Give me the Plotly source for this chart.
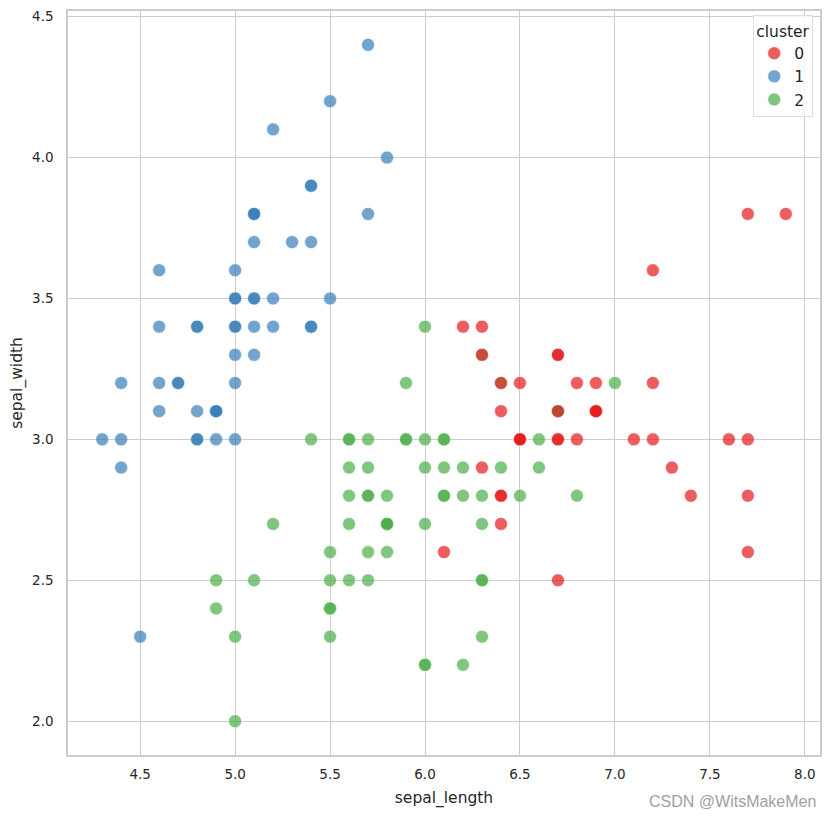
import plotly.graph_objects as go

# iris sepal measurements, in dataset order, with k-means cluster labels
sepal_length = [
    5.1, 4.9, 4.7, 4.6, 5.0, 5.4, 4.6, 5.0, 4.4, 4.9, 5.4, 4.8, 4.8, 4.3, 5.8, 5.7, 5.4, 5.1, 5.7, 5.1,
    5.4, 5.1, 4.6, 5.1, 4.8, 5.0, 5.0, 5.2, 5.2, 4.7, 4.8, 5.4, 5.2, 5.5, 4.9, 5.0, 5.5, 4.9, 4.4, 5.1,
    5.0, 4.5, 4.4, 5.0, 5.1, 4.8, 5.1, 4.6, 5.3, 5.0,
    7.0, 6.4, 6.9, 5.5, 6.5, 5.7, 6.3, 4.9, 6.6, 5.2, 5.0, 5.9, 6.0, 6.1, 5.6, 6.7, 5.6, 5.8, 6.2, 5.6,
    5.9, 6.1, 6.3, 6.1, 6.4, 6.6, 6.8, 6.7, 6.0, 5.7, 5.5, 5.5, 5.8, 6.0, 5.4, 6.0, 6.7, 6.3, 5.6, 5.5,
    5.5, 6.1, 5.8, 5.0, 5.6, 5.7, 5.7, 6.2, 5.1, 5.7,
    6.3, 5.8, 7.1, 6.3, 6.5, 7.6, 4.9, 7.3, 6.7, 7.2, 6.5, 6.4, 6.8, 5.7, 5.8, 6.4, 6.5, 7.7, 7.7, 6.0,
    6.9, 5.6, 7.7, 6.3, 6.7, 7.2, 6.2, 6.1, 6.4, 7.2, 7.4, 7.9, 6.4, 6.3, 6.1, 7.7, 6.3, 6.4, 6.0, 6.9,
    6.7, 6.9, 5.8, 6.8, 6.7, 6.7, 6.3, 6.5, 6.2, 5.9,
]
sepal_width = [
    3.5, 3.0, 3.2, 3.1, 3.6, 3.9, 3.4, 3.4, 2.9, 3.1, 3.7, 3.4, 3.0, 3.0, 4.0, 4.4, 3.9, 3.5, 3.8, 3.8,
    3.4, 3.7, 3.6, 3.3, 3.4, 3.0, 3.4, 3.5, 3.4, 3.2, 3.1, 3.4, 4.1, 4.2, 3.1, 3.2, 3.5, 3.1, 3.0, 3.4,
    3.5, 2.3, 3.2, 3.5, 3.8, 3.0, 3.8, 3.2, 3.7, 3.3,
    3.2, 3.2, 3.1, 2.3, 2.8, 2.8, 3.3, 2.4, 2.9, 2.7, 2.0, 3.0, 2.2, 2.9, 2.9, 3.1, 3.0, 2.7, 2.2, 2.5,
    3.2, 2.8, 2.5, 2.8, 2.9, 3.0, 2.8, 3.0, 2.9, 2.6, 2.4, 2.4, 2.7, 2.7, 3.0, 3.4, 3.1, 2.3, 3.0, 2.5,
    2.6, 3.0, 2.6, 2.3, 2.7, 3.0, 2.9, 2.9, 2.5, 2.8,
    3.3, 2.7, 3.0, 2.9, 3.0, 3.0, 2.5, 2.9, 2.5, 3.6, 3.2, 2.7, 3.0, 2.5, 2.8, 3.2, 3.0, 3.8, 2.6, 2.2,
    3.2, 2.8, 2.8, 2.7, 3.3, 3.2, 2.8, 3.0, 2.8, 3.0, 2.8, 3.8, 2.8, 2.8, 2.6, 3.0, 3.4, 3.1, 3.0, 3.1,
    3.1, 3.1, 2.7, 3.2, 3.3, 3.0, 2.5, 3.0, 3.4, 3.0,
]
cluster = (
    [1] * 50
    + [2, 2, 0, 2, 2, 2, 2, 2, 2, 2, 2, 2, 2, 2, 2, 2, 2, 2, 2, 2,
       2, 2, 2, 2, 2, 2, 2, 0, 2, 2, 2, 2, 2, 2, 2, 2, 2, 2, 2, 2,
       2, 2, 2, 2, 2, 2, 2, 2, 2, 2]
    + [0, 2, 0, 0, 0, 0, 2, 0, 0, 0, 0, 0, 0, 2, 2, 0, 0, 0, 0, 2,
       0, 2, 0, 2, 0, 0, 2, 2, 0, 0, 0, 0, 0, 2, 0, 0, 0, 0, 2, 0,
       0, 0, 2, 0, 0, 0, 2, 0, 0, 2]
)

cluster_names = ["0", "1", "2"]
palette = {"0": "#e41a1c", "1": "#377eb8", "2": "#4daf4a"}

fig = go.Figure()

# green first, red last so red sits on top where they overlap (as in the original)
for rank, name in [(3, "2"), (2, "1"), (1, "0")]:
    xs = [x for x, c in zip(sepal_length, cluster) if str(c) == name]
    ys = [y for y, c in zip(sepal_width, cluster) if str(c) == name]
    fig.add_trace(
        go.Scatter(
            x=xs,
            y=ys,
            mode="markers",
            name=name,
            legendrank=rank,
            marker=dict(
                size=13,
                color=palette[name],
                opacity=0.7,
                line=dict(color="white", width=0.6),
            ),
        )
    )

grid = "#cccccc"
tick_font = dict(family="DejaVu Sans", size=13.5, color="#262626")
title_font = dict(family="DejaVu Sans", size=15.5, color="#262626")

# the page body adds an 8px margin, so the figure is 8px smaller and margins shifted
fig.update_layout(
    width=822,
    height=808,
    margin=dict(l=60, r=10, t=1, b=61),
    plot_bgcolor="white",
    paper_bgcolor="white",
    font=dict(family="DejaVu Sans", color="#262626"),
    legend=dict(
        title=dict(text="cluster", font=dict(family="DejaVu Sans", size=15.5, color="#262626")),
        font=dict(family="DejaVu Sans", size=15.5, color="#262626"),
        x=0.991,
        y=0.994,
        xanchor="right",
        yanchor="top",
        bgcolor="rgba(255,255,255,0.8)",
        bordercolor="#dddddd",
        borderwidth=1,
        itemwidth=30,
    ),
    xaxis=dict(
        range=[4.12, 8.08],
        tickvals=[4.5, 5.0, 5.5, 6.0, 6.5, 7.0, 7.5, 8.0],
        tickformat=".1f",
        showgrid=True,
        gridcolor=grid,
        gridwidth=1,
        zeroline=False,
        showline=True,
        linecolor=grid,
        linewidth=1.5,
        mirror=True,
        ticks="",
        ticklabelstandoff=6,
        tickfont=tick_font,
        title=dict(text="sepal_length", font=title_font, standoff=11),
    ),
    yaxis=dict(
        range=[1.88, 4.52],
        tickvals=[2.0, 2.5, 3.0, 3.5, 4.0, 4.5],
        tickformat=".1f",
        showgrid=True,
        gridcolor=grid,
        gridwidth=1,
        zeroline=False,
        showline=True,
        linecolor=grid,
        linewidth=1.5,
        mirror=True,
        ticks="",
        ticklabelstandoff=10,
        tickfont=tick_font,
        title=dict(text="sepal_width", font=title_font, standoff=6),
    ),
)

fig.add_annotation(
    text="CSDN @WitsMakeMen",
    xref="paper",
    yref="paper",
    x=0.997,
    y=-0.048,
    xanchor="right",
    yanchor="top",
    showarrow=False,
    font=dict(family="Liberation Sans", size=16, color="#a0a0a0"),
)

fig.write_html("out.html")
